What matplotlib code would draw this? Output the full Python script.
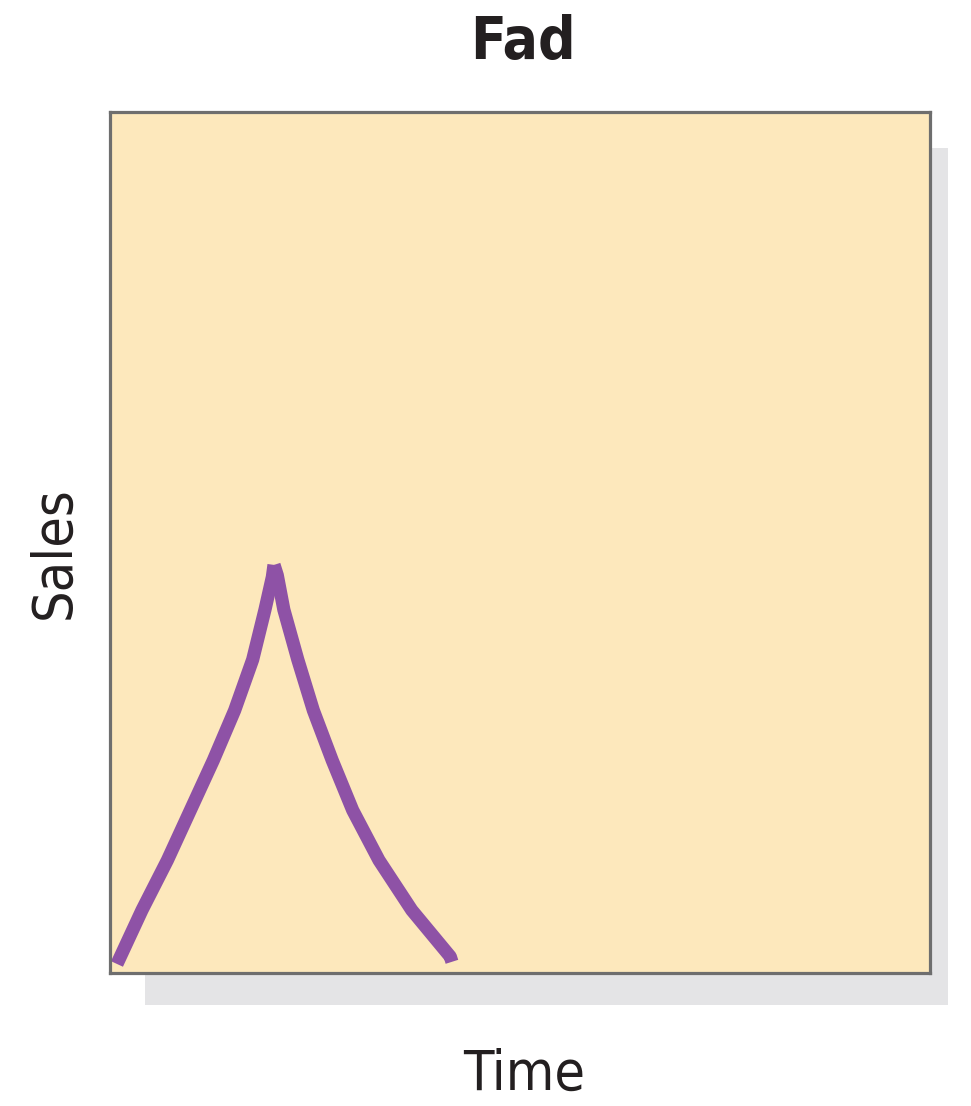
import matplotlib.pyplot as plt
from matplotlib.patches import Rectangle

# Fad curve (time, sales) on a 0-100 scale
rise_time = [0.85, 3.9, 7.0, 9.8, 12.6, 15.2, 17.4, 18.9, 19.8, 20.0]
rise_sales = [1.05, 7.3, 13.1, 18.9, 24.7, 30.5, 36.4, 42.2, 46.0, 47.4]
fall_time = [20.0, 20.4, 21.2, 22.9, 24.8, 27.1, 29.6, 32.8, 36.8, 41.5, 41.7]
fall_sales = [47.4, 46.2, 42.2, 36.4, 30.5, 24.7, 18.9, 13.1, 7.3, 1.9, 1.3]

W, H = 971, 1106
fig = plt.figure(figsize=(W / 100, H / 100), dpi=100)

# grey drop shadow behind the panel
fig.patches.append(Rectangle((145 / W, 1 - 1005 / H), 803 / W, 857 / H,
                             transform=fig.transFigure, facecolor='#e4e4e6',
                             edgecolor='none', zorder=0))

ax = fig.add_axes([110 / W, 1 - 973 / H, 820 / W, 861 / H])
ax.set_facecolor('#fde8bc')
ax.set_zorder(1)
ax.set_xlim(0, 100)
ax.set_ylim(0, 100)
ax.set_xticks([])
ax.set_yticks([])
for s in ax.spines.values():
    s.set_color('#6e6e6e')
    s.set_linewidth(2.3)

purple = '#8e52a6'
ax.plot(rise_time, rise_sales, color=purple, lw=9.5, solid_capstyle='butt',
        solid_joinstyle='round')
ax.plot(fall_time, fall_sales, color=purple, lw=9.5, solid_capstyle='butt',
        solid_joinstyle='round')

font = ['DejaVu Sans']
fig.text(523 / W, 1 - 42 / H, 'Fad', ha='center', va='center', fontsize=42,
         fontweight='bold', fontstretch='condensed', family=font,
         color='#231f20')
fig.text(55 / W, 1 - 553 / H, 'Sales', ha='center', va='center', rotation=90,
         fontsize=40, fontstretch='condensed', family=font, color='#231f20')
fig.text(524 / W, 1 - 1075 / H, 'Time', ha='center', va='center',
         fontsize=40, fontstretch='condensed', family=font, color='#231f20')

fig.savefig('out.png', dpi=100, facecolor='white')
